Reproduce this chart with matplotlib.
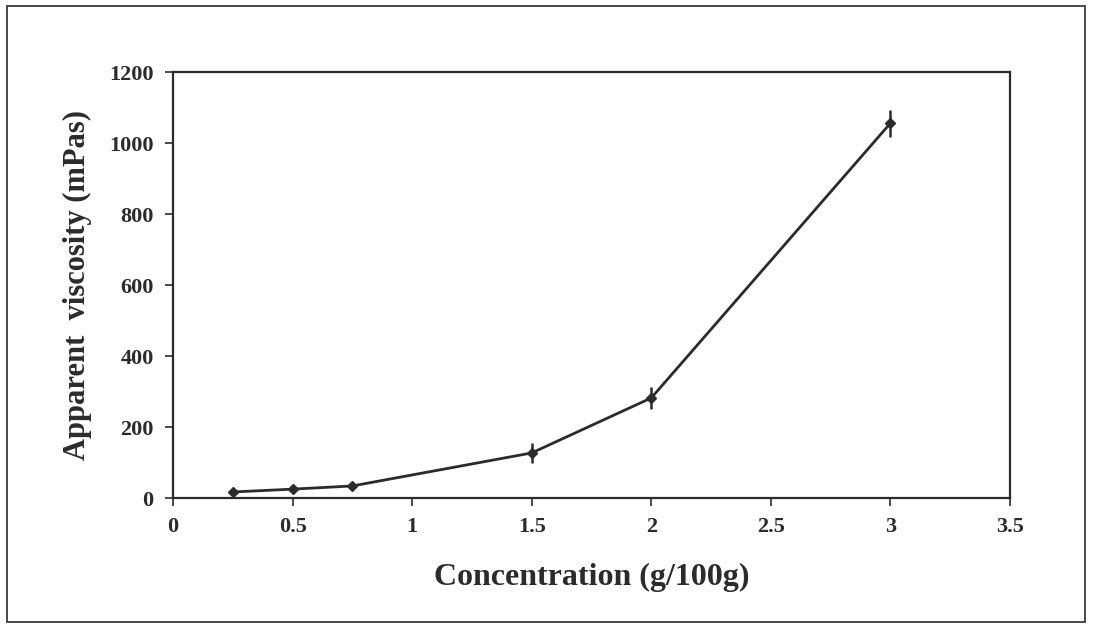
import matplotlib.pyplot as plt
from matplotlib.patches import Rectangle

# =========================
# Data
# =========================

concentration = [0.25, 0.5, 0.75, 1.5, 2.0, 3.0]
viscosity = [17, 25, 34, 127, 282, 1056]
viscosity_err = [3, 3, 4, 28, 30, 38]

x_ticks = [0, 0.5, 1, 1.5, 2, 2.5, 3, 3.5]
x_tick_labels = ["0", "0.5", "1", "1.5", "2", "2.5", "3", "3.5"]
y_ticks = [0, 200, 400, 600, 800, 1000, 1200]

ink = "#2b2b2b"

plt.rcParams['font.family'] = ['Liberation Serif', 'DejaVu Serif']
plt.rcParams['font.weight'] = 'bold'

fig = plt.figure(figsize=(10.93, 6.24), dpi=100)
ax = fig.add_axes([0.1583, 0.2019, 0.7658, 0.6827])

# outer frame around the whole figure
fig.patches.append(Rectangle((0.0064, 0.003), 0.986, 0.987, transform=fig.transFigure,
                             fill=False, edgecolor="#3a3a3a", linewidth=1.3))

ax.errorbar(concentration, viscosity, yerr=viscosity_err,
            color=ink, linewidth=2, marker='D', markersize=5,
            elinewidth=1.8, capsize=0)

ax.set_xlim(0, 3.5)
ax.set_ylim(0, 1200)
ax.set_xticks(x_ticks)
ax.set_xticklabels(x_tick_labels)
ax.set_yticks(y_ticks)

ax.tick_params(axis='both', direction='out', length=6, width=1.2,
               colors=ink, labelsize=16, pad=8)
for label in ax.get_xticklabels() + ax.get_yticklabels():
    label.set_fontweight('bold')

for spine in ax.spines.values():
    spine.set_color(ink)
    spine.set_linewidth(1.6)

ax.set_xlabel("Concentration (g/100g)", fontsize=23, fontweight='bold',
              color=ink, labelpad=18)
ax.set_ylabel("Apparent  viscosity (mPas)", fontsize=22, fontweight='bold',
              color=ink, labelpad=12)

fig.savefig("out.png", dpi=100)
